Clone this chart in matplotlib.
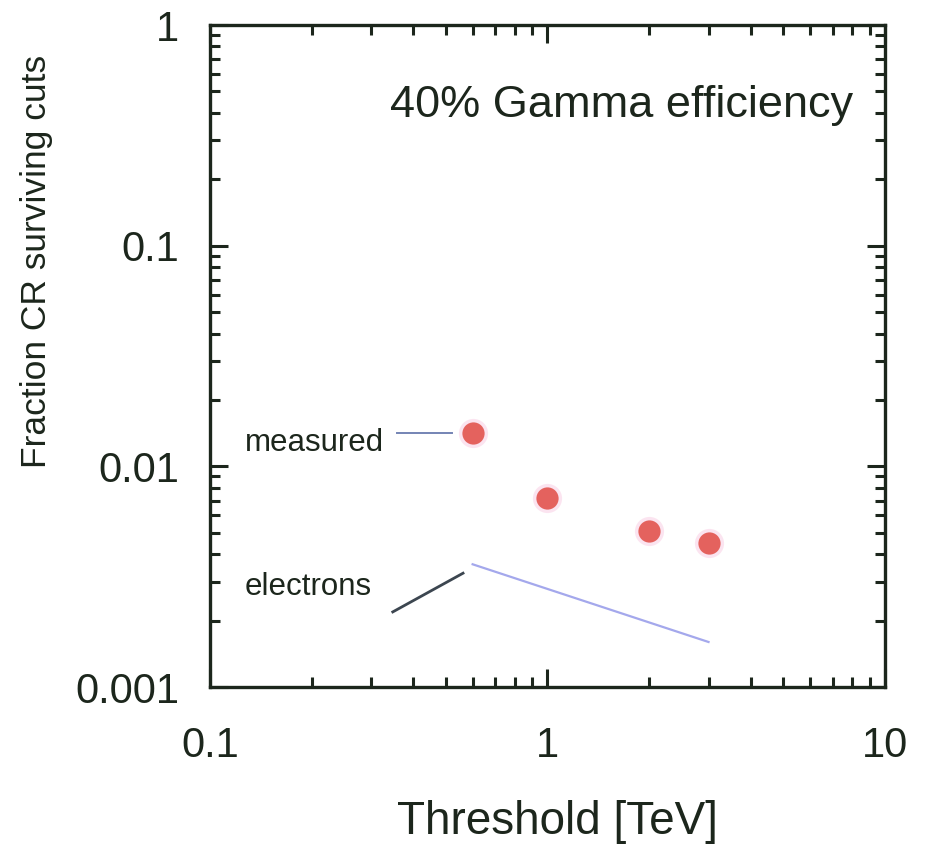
import matplotlib
matplotlib.use("Agg")
import matplotlib.pyplot as plt
from matplotlib.ticker import LogLocator, FixedLocator, FixedFormatter, NullFormatter

plt.rcParams['font.family'] = ['Liberation Sans', 'DejaVu Sans']

# measured cosmic-ray fraction surviving cuts vs threshold
threshold = [0.6, 1.0, 2.0, 3.0]
measured = [0.0142, 0.0072, 0.0051, 0.0045]

# electron contribution (straight segment)
e_threshold = [0.6, 3.0]
electrons = [0.0036, 0.0016]

x_ticks = [0.1, 1, 10]
x_labels = ['0.1', '1', '10']
y_ticks = [0.001, 0.01, 0.1, 1]
y_labels = ['0.001', '0.01', '0.1', '1']

INK = '#1c261c'

fig = plt.figure(figsize=(9.3, 8.46), dpi=100)
ax = fig.add_axes([0.2258, 0.1879, 0.7258, 0.7825])
ax.set_xscale('log')
ax.set_yscale('log')
ax.set_xlim(0.1, 10)
ax.set_ylim(0.001, 1)

# data points with a soft pink halo
ax.plot(threshold, measured, 'o', ms=21, color='#f6b4d4', alpha=0.35,
        mec='none', zorder=3)
ax.plot(threshold, measured, 'o', ms=16, color='#e4625e', mec='none', zorder=4)

ax.plot(e_threshold, electrons, '-', color='#a4a8ec', lw=1.6, zorder=2)

# label pointers
ax.plot([0.359, 0.522], [0.0142, 0.0142], '-', color='#7484b4', lw=1.4)
ax.plot([0.348, 0.562], [0.00219, 0.00328], '-', color='#3c4650', lw=2.0)

ax.text(0.127, 0.01275, 'measured', fontsize=22.5, color=INK, va='center', ha='left')
ax.text(0.127, 0.00284, 'electrons', fontsize=22.5, color=INK, va='center', ha='left')
ax.text(0.342, 0.43, '40% Gamma efficiency', fontsize=32.5, color=INK,
        va='center', ha='left')

# axes frame and ticks
for s in ax.spines.values():
    s.set_linewidth(2.4)
    s.set_color(INK)

ax.xaxis.set_major_locator(FixedLocator(x_ticks))
ax.xaxis.set_major_formatter(FixedFormatter(x_labels))
ax.yaxis.set_major_locator(FixedLocator(y_ticks))
ax.yaxis.set_major_formatter(FixedFormatter(y_labels))
ax.xaxis.set_minor_locator(LogLocator(base=10, subs=range(2, 10)))
ax.yaxis.set_minor_locator(LogLocator(base=10, subs=range(2, 10)))
ax.xaxis.set_minor_formatter(NullFormatter())
ax.yaxis.set_minor_formatter(NullFormatter())

ax.tick_params(which='both', direction='in', top=True, right=True,
               color=INK, width=2.2)
ax.tick_params(which='major', length=13)
ax.tick_params(which='minor', length=7)
ax.tick_params(axis='x', which='major', labelsize=30, pad=28, labelcolor=INK)
ax.tick_params(axis='y', which='major', labelsize=30, pad=22, labelcolor=INK)

fig.text(557 / 930, 1 - 822 / 846, 'Threshold [TeV]', fontsize=33, color=INK,
         ha='center', va='center')
fig.text(37 / 930, 1 - 261 / 846, 'Fraction CR surviving cuts', fontsize=25.5,
         color=INK, ha='center', va='center', rotation=90)

fig.savefig('out.png', dpi=100)
